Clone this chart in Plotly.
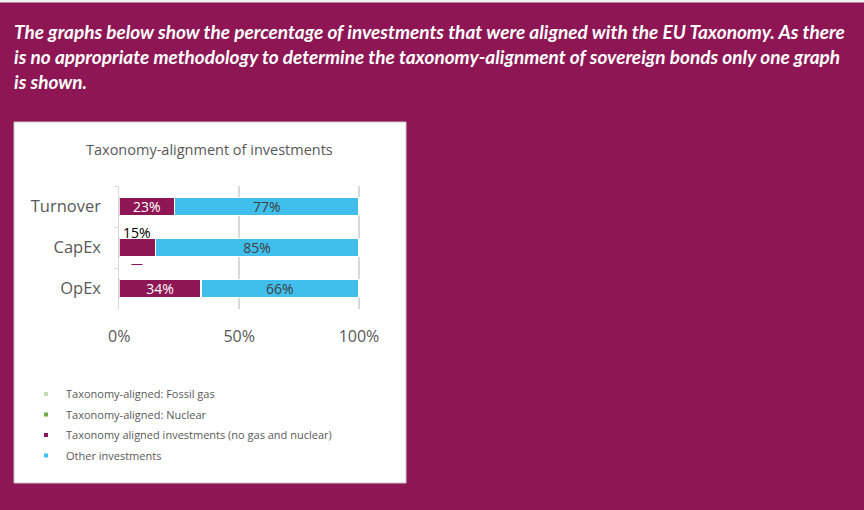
import plotly.graph_objects as go

W, H = 864, 510

# Chart data
categories = ["Turnover", "CapEx", "OpEx"]
fossil_gas = [0, 0, 0]
nuclear = [0, 0, 0]
aligned = [23, 15, 34]
other = [77, 85, 66]
x_ticks = [0, 50, 100]
x_tick_labels = ["0%", "50%", "100%"]

series_names = [
    "Taxonomy-aligned: Fossil gas",
    "Taxonomy-aligned: Nuclear",
    "Taxonomy aligned investments (no gas and nuclear)",
    "Other investments",
]
header_lines = [
    "The graphs below show the percentage of investments that were aligned with the EU Taxonomy. As there",
    "is no appropriate methodology to determine the taxonomy-alignment of sovereign bonds only one graph",
    "is shown.",
]
chart_title = "Taxonomy-alignment of investments"

MAROON = "#8E1654"
BLUE = "#41BFEC"
GAS = "#C5E0B4"
NUC = "#70AD47"
GREY_TXT = "#595959"
GRID = "#D9D9D9"
FONT = "Open Sans"


def px(x):
    return x / W


def py(y):
    return 1 - y / H


fig = go.Figure()

# Stacked horizontal bars
fig.add_trace(go.Bar(y=categories, x=fossil_gas, orientation="h", marker_color=GAS,
                     marker_line_width=0, showlegend=False, hoverinfo="skip"))
fig.add_trace(go.Bar(y=categories, x=nuclear, orientation="h", marker_color=NUC,
                     marker_line_width=0, showlegend=False, hoverinfo="skip"))

aligned_pos = ["inside" if v >= 20 else "none" for v in aligned]
fig.add_trace(go.Bar(
    y=categories, x=aligned, orientation="h", marker_color=MAROON,
    marker_line=dict(color="white", width=1.5),
    text=[f"{v}%" for v in aligned], textposition=aligned_pos,
    insidetextanchor="middle", textangle=0,
    textfont=dict(family=FONT, size=14, color="white"),
    showlegend=False,
))
fig.add_trace(go.Bar(
    y=categories, x=other, orientation="h", marker_color=BLUE,
    marker_line=dict(color="white", width=1.5),
    text=[f"{v}%" for v in other], textposition="inside",
    insidetextanchor="middle", textangle=0,
    textfont=dict(family=FONT, size=14, color="#404040"),
    showlegend=False,
))

# Labels for narrow segments sit above the bar
for cat, v, pos in zip(categories, aligned, aligned_pos):
    if pos == "none":
        fig.add_annotation(x=v / 2, y=cat, xref="x", yref="y", text=f"{v}%",
                           showarrow=False, yshift=15,
                           font=dict(family=FONT, size=14, color="black"))
        fig.add_annotation(x=v / 2, y=cat, xref="x", yref="y", text="—",
                           showarrow=False, yshift=-16,
                           font=dict(family=FONT, size=12, color=MAROON))

# Legend entries with small square swatches
for name, col in zip(series_names, [GAS, NUC, MAROON, BLUE]):
    fig.add_trace(go.Scatter(
        x=[None], y=[None], mode="markers", name=name, legendgroup=name,
        marker=dict(symbol="square", size=4, color=col),
    ))

# White chart panel
fig.add_shape(type="rect", xref="paper", yref="paper",
              x0=px(14), x1=px(406), y0=py(483), y1=py(122),
              fillcolor="white", line=dict(color="#C8C8C8", width=1), layer="below")
# thin light strip along the top edge
fig.add_shape(type="rect", xref="paper", yref="paper",
              x0=0, x1=1, y0=py(2.5), y1=1,
              fillcolor="#F2F2F2", line_width=0, layer="below")

# Header text
for i, line in enumerate(header_lines):
    fig.add_annotation(xref="paper", yref="paper", x=px(12), y=py(31 + 25 * i),
                       xanchor="left", yanchor="middle", showarrow=False,
                       text=f"<b><i>{line}</i></b>",
                       font=dict(family="Lato", size=19, color="white"))

# Chart title
fig.add_annotation(xref="paper", yref="paper", x=px(209.5), y=py(149),
                   xanchor="center", yanchor="middle", showarrow=False,
                   text=chart_title, font=dict(family=FONT, size=14.5, color=GREY_TXT))

X0_PX, X100_PX = 119.3, 359.0
X_MAX = 101
x_right_px = X0_PX + (X100_PX - X0_PX) * X_MAX / 100

fig.update_layout(
    width=W, height=H,
    margin=dict(l=0, r=0, t=0, b=0, autoexpand=False),
    paper_bgcolor=MAROON,
    plot_bgcolor="white",
    barmode="stack",
    bargap=0.56,
    uniformtext=dict(minsize=14, mode="show"),
    xaxis=dict(
        domain=[px(X0_PX), px(x_right_px)], range=[0, X_MAX],
        tickvals=x_ticks, ticktext=x_tick_labels,
        showgrid=True, gridcolor=GRID, gridwidth=1.5,
        zeroline=False, showline=False, ticks="",
        ticklabelstandoff=16,
        tickfont=dict(family=FONT, size=16, color=GREY_TXT),
        automargin=False,
        fixedrange=True,
    ),
    yaxis=dict(
        domain=[py(309), py(186)],
        categoryorder="array", categoryarray=categories, autorange="reversed",
        showline=True, linecolor=GRID, linewidth=1,
        ticks="outside", tickson="boundaries", ticklen=4, tickcolor=GRID,
        showgrid=False, zeroline=False,
        ticklabelstandoff=14,
        tickfont=dict(family=FONT, size=16.5, color=GREY_TXT),
        automargin=False,
        fixedrange=True,
    ),
    legend=dict(
        x=px(26), y=py(379.5), xanchor="left", yanchor="top",
        bgcolor="rgba(0,0,0,0)", traceorder="grouped", tracegroupgap=1.5,
        font=dict(family=FONT, size=11, color=GREY_TXT),
        itemclick=False, itemdoubleclick=False,
    ),
    showlegend=True,
)

fig.write_html("out.html")
